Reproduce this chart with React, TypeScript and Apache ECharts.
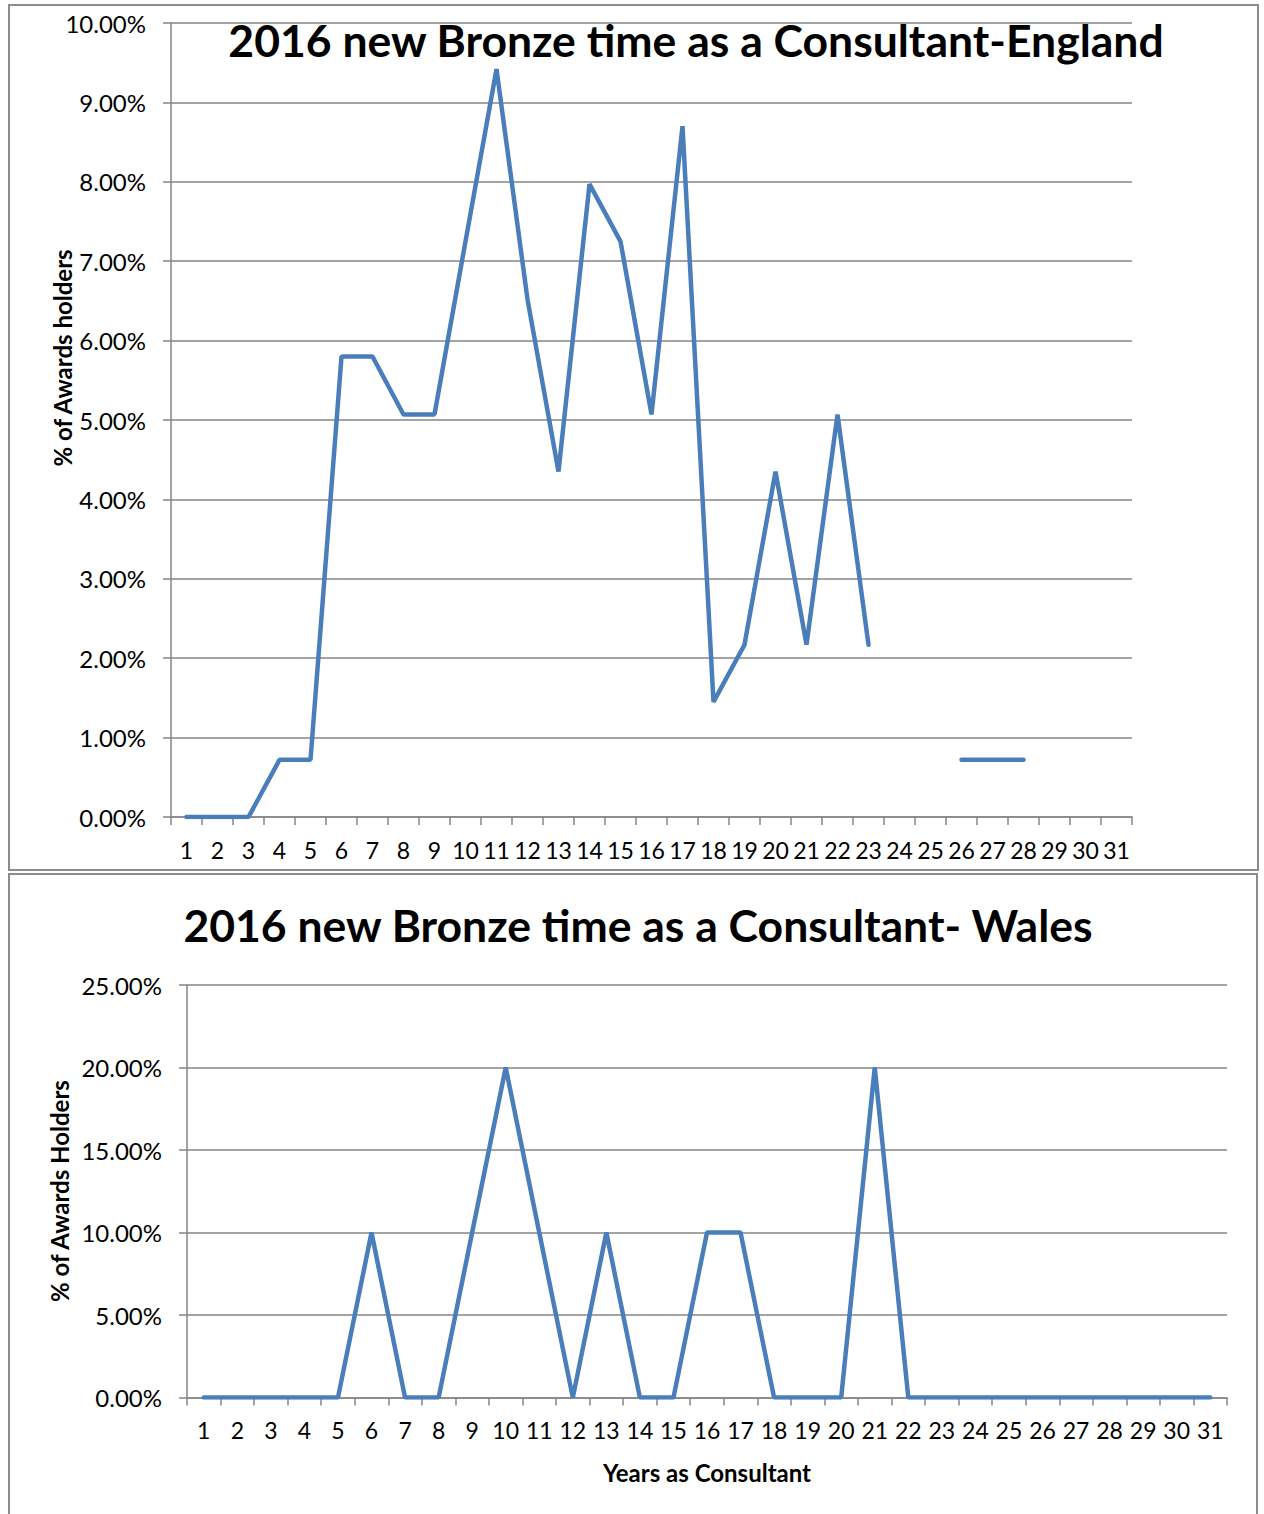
import React, { useEffect, useRef } from "react";
import * as echarts from "echarts";

const years = ["1","2","3","4","5","6","7","8","9","10","11","12","13","14","15","16","17","18","19","20","21","22","23","24","25","26","27","28","29","30","31"];
const englandValues: (number | null)[] = [0,0,0,0.72,0.72,5.80,5.80,5.07,5.07,7.25,9.42,6.52,4.35,7.97,7.25,5.07,8.70,1.45,2.17,4.35,2.17,5.07,2.17,null,null,0.72,0.72,0.72,null,null,null];
const walesValues: number[] = [0,0,0,0,0,10,0,0,10,20,10,0,10,0,0,10,10,0,0,0,20,0,0,0,0,0,0,0,0,0,0];
const englandTitle = "2016 new Bronze time as a Consultant-England";
const walesTitle = "2016 new Bronze time as a Consultant- Wales";
const englandYName = "% of Awards holders";
const walesYName = "% of Awards Holders";
const walesXName = "Years as Consultant";

const FONT = "Lato";
const GRAY = "#868686";
const LINE = "#4a7ebb";

export default function App() {
  const ref = useRef<HTMLDivElement>(null);
  useEffect(() => {
    if (!ref.current) return;
    const chart = echarts.init(ref.current, null, { renderer: "svg" });
    const pct = (v: number) => v.toFixed(2) + "%";
    const xAxisBase = {
      type: "category" as const,
      data: years,
      boundaryGap: true,
      axisLine: { show: true, lineStyle: { color: GRAY, width: 1.5 } },
      axisTick: { show: true, length: 8, lineStyle: { color: GRAY, width: 1.5 } },
      axisLabel: { interval: 0, color: "#000", fontFamily: FONT, fontSize: 23, margin: 21 },
      splitLine: { show: false },
    };
    const yAxisBase = {
      type: "value" as const,
      min: 0,
      axisLine: { show: true, lineStyle: { color: GRAY, width: 1.5 } },
      axisTick: { show: true, length: 8, lineStyle: { color: GRAY, width: 1.5 } },
      axisLabel: { color: "#000", fontFamily: FONT, fontSize: 24, margin: 25, formatter: pct },
      splitLine: { show: true, lineStyle: { color: GRAY, width: 1.5 } },
    };
    const nameFont = `bold 24px ${FONT}`;
    chart.setOption({
      animation: false,
      backgroundColor: "#fff",
      title: [
        {
          text: englandTitle,
          left: 691,
          top: 12,
          textAlign: "center",
          textStyle: { fontFamily: FONT, fontWeight: "bold", fontSize: 44.5, color: "#000" },
        },
        {
          text: walesTitle,
          left: 633,
          top: 897,
          textAlign: "center",
          textStyle: { fontFamily: FONT, fontWeight: "bold", fontSize: 44.5, color: "#000" },
        },
      ],
      grid: [
        { left: 171, top: 23, width: 961, height: 794 },
        { left: 187, top: 985, width: 1040, height: 412.6 },
      ],
      xAxis: [
        { ...xAxisBase, gridIndex: 0 },
        { ...xAxisBase, gridIndex: 1 },
      ],
      yAxis: [
        { ...yAxisBase, gridIndex: 0, max: 10, interval: 1 },
        { ...yAxisBase, gridIndex: 1, max: 25, interval: 5 },
      ],
      series: [
        {
          type: "line",
          xAxisIndex: 0,
          yAxisIndex: 0,
          data: englandValues,
          showSymbol: false,
          connectNulls: false,
          lineStyle: { color: LINE, width: 4.5, cap: "round" },
          itemStyle: { color: LINE },
        },
        {
          type: "line",
          xAxisIndex: 1,
          yAxisIndex: 1,
          data: walesValues,
          showSymbol: false,
          lineStyle: { color: LINE, width: 4.5, cap: "round" },
          itemStyle: { color: LINE },
        },
      ],
      graphic: [
        { type: "rect", shape: { x: 9, y: 5, width: 1249, height: 865 }, style: { fill: "none", stroke: "#8c8c8c", lineWidth: 2 }, z: -1 },
        { type: "rect", shape: { x: 9, y: 874, width: 1248, height: 660 }, style: { fill: "none", stroke: "#8c8c8c", lineWidth: 2 }, z: -1 },
        { type: "text", x: 62, y: 358, rotation: Math.PI / 2, style: { text: englandYName, font: nameFont, fill: "#000", align: "center", verticalAlign: "middle" } },
        { type: "text", x: 59, y: 1191, rotation: Math.PI / 2, style: { text: walesYName, font: nameFont, fill: "#000", align: "center", verticalAlign: "middle" } },
        { type: "text", x: 707, y: 1472, style: { text: walesXName, font: nameFont, fill: "#000", align: "center", verticalAlign: "middle" } },
      ],
    });
    return () => chart.dispose();
  }, []);
  return <div ref={ref} style={{ position: "absolute", left: 0, top: 0, width: 1264, height: 1514 }} />;
}
